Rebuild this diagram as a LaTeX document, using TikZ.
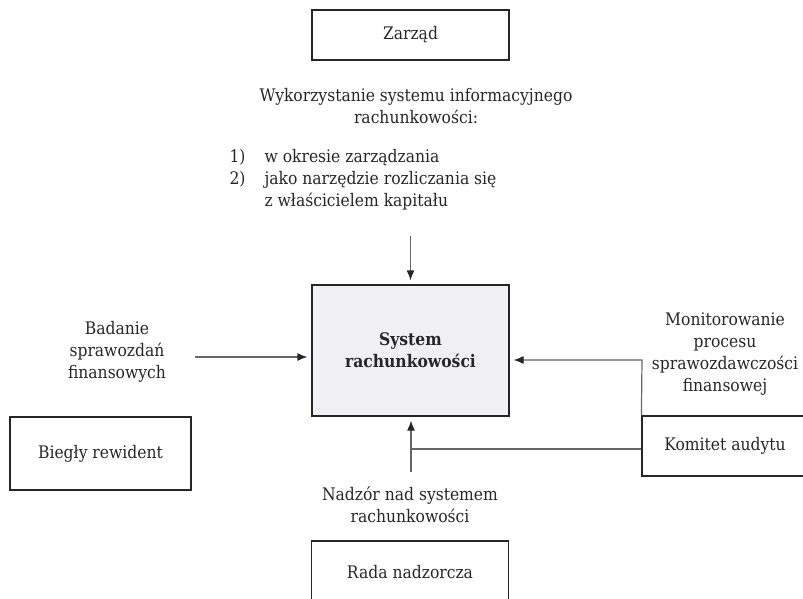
\documentclass[tikz,border=0pt]{standalone}
\usepackage{fontspec}
\setmainfont{DejaVu Serif Condensed}
\usetikzlibrary{arrows.meta}
\definecolor{tekst}{HTML}{262626}
\definecolor{tlo}{HTML}{F1F1F3}
\begin{document}
\begin{tikzpicture}[x=1pt,y=-1pt,
		every node/.style={font=\fontsize{17.3}{22}\selectfont,text=tekst,align=center},
		box/.style={draw=black!85,line width=1.2pt,inner sep=0pt},
		con/.style={draw=black!60,line width=1.2pt},
		arr/.style={con,-{Latex[length=10pt,width=8pt,color=black!85]},shorten >=4pt}]
		\useasboundingbox (0,0) rectangle (803,599);
		\clip (0,0) rectangle (803,599);
		\node[box,minimum width=197pt,minimum height=50pt] (zarzad) at (410.5,35) {Zarząd};
		\node (uzycie) at (416,106) {Wykorzystanie systemu informacyjnego\\rachunkowości:};
		\node[anchor=west,align=left] (cele) at (226,180) {\makebox[35pt][l]{1)}w okresie zarządzania\\\makebox[35pt][l]{2)}jako narzędzie rozliczania się\\\hspace*{35pt}z właścicielem kapitału};
		\node[box,fill=tlo,minimum width=197pt,minimum height=131pt,font=\fontsize{17.3}{22}\selectfont\bfseries] (system) at (410.5,350.5) {System\\rachunkowości};
		\node (badanie) at (117,352) {Badanie\\sprawozdań\\finansowych};
		\node[box,minimum width=181pt,minimum height=73pt] (bieg) at (100.5,453.5) {Biegły rewident};
		\node (monit) at (725,354) {Monitorowanie\\procesu\\sprawozdawczości\\finansowej};
		\node[box,minimum width=166pt,minimum height=60pt] (komitet) at (725,446) {Komitet audytu};
		\node (nadzor) at (410,505) {Nadzór nad systemem\\rachunkowości};
		\node[box,minimum width=197pt,minimum height=62pt] (rada) at (410,572) {Rada nadzorcza};
		\coordinate (gora) at (410.5,236);
		\coordinate (lewo) at (195,357);
		\coordinate (prawo) at (642,360);
		\coordinate (wezel) at (411,449);
		\coordinate (dol) at (411,472);
		\draw[arr] (gora) -- (system.north);
		\draw[arr] (lewo) -- (system.west |- lewo);
		\draw[arr] (komitet.north west) -- (prawo) -- (system.east |- prawo);
		\draw[con] (komitet.west |- wezel) -- (wezel);
		\draw[arr] (dol) -- (system.south -| dol);
\end{tikzpicture}
\end{document}
